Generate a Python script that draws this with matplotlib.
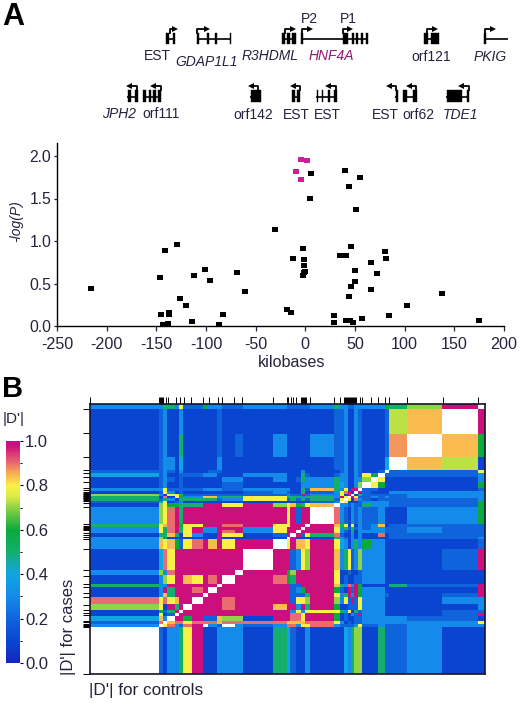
"""
HNF4A region: association scatter (A) and pairwise |D'| map (B).
Layout is worked out in reference pixels, then mapped to figure fractions.
"""

import numpy as np
import matplotlib
matplotlib.use("Agg")
import matplotlib.pyplot as plt
from matplotlib.colors import LinearSegmentedColormap
from matplotlib.path import Path

plt.rcParams["font.family"] = ["Liberation Sans", "DejaVu Sans"]
plt.rcParams["axes.unicode_minus"] = False

W, H = 520, 703
INK = "#23233f"

# ---- Panel A: kilobases vs -log(P) ----
kb_black = [-215.5, -129, -141, -146, -112.5, -100.6, -95.6, -69, -60.5, -126, -120, -145, -137, -137,
            -143, -138, -114, -82.5, -86.5,
            5.4, 39.6, 54.7, 43.6, 5, 50.7, -31, -2, 46, 35, 41, 80, 81, 66, -12, -1.3, -1.3, -0.7, -1.3,
            -2, 50, 72.5, 50, 46, 66, 44.3, 138, 102, -18.5, -14.8, 29, 29, 40.6, 45, 48.3, 56.7, 84.6, 174.5]
logp_black = [0.45, 0.97, 0.89, 0.58, 0.6, 0.67, 0.54, 0.64, 0.41, 0.33, 0.25, 0.14, 0.165, 0.14,
              0.02, 0.04, 0.06, 0.14, 0.02,
              1.795, 1.83, 1.75, 1.646, 1.505, 1.38, 1.14, 0.915, 0.943, 0.83, 0.837, 0.888, 0.805, 0.754,
              0.798, 0.794, 0.723, 0.652, 0.637, 0.605, 0.664, 0.625, 0.527, 0.475, 0.432, 0.354, 0.389,
              0.248, 0.196, 0.169, 0.134, 0.05, 0.067, 0.07, 0.05, 0.094, 0.134, 0.07]
kb_hnf4a = [-4, 1.7, -9.4, -4]
logp_hnf4a = [1.965, 1.95, 1.82, 1.73]

x_ticks = [-250, -200, -150, -100, -50, 0, 50, 100, 150, 200]
y_ticks = [0.0, 0.5, 1.0, 1.5, 2.0]

# gene models: label, label x, label y, italic, colour, exons, line span, arrows (x0, x1, y)
genes_row1 = [
    ("EST", 157, 56, False, INK, [(166, 168.5), (172.5, 175)], (166, 175), [(170, 175)]),
    ("GDAP1L1", 207, 62, True, INK, [(197, 199), (207, 209), (215, 216.5), (230, 231)], (197, 231), [(197, 207)]),
    ("R3HDML", 270, 56, True, INK, [(282, 285), (287, 290), (292, 295.5)], (282, 295), [(285, 293)]),
    ("HNF4A", 331, 56, True, "#8e1a72", [(301, 302.5), (342.5, 348), (352, 353.5), (356, 357.5), (361, 362.5),
                                         (366, 368)], (301, 368), [(301.5, 310), (343, 350)]),
    ("orf121", 431, 57, False, INK, [(424, 428), (431, 439)], (424, 439), [(427, 435)]),
    ("PKIG", 490, 57, True, INK, [(484, 485.5)], (484, 508), [(484.5, 493)]),
]
genes_row2 = [
    ("JPH2", 119, 114, True, INK, [(127.5, 130.5), (135, 137.5)], (127, 137), [(137, 129)]),
    ("orf111", 161, 114, False, INK, [(143, 146), (148.5, 151), (153, 155.5), (157.5, 161)], (143, 161), [(161, 153)]),
    ("orf142", 253, 115, False, INK, [(250.5, 260.5)], (250, 260), [(258, 251)]),
    ("EST", 296, 115, False, INK, [(292, 295), (297, 300)], (292, 300), [(300, 293)]),
    ("EST", 327, 115, False, INK, [(316.5, 318), (321.5, 323), (328, 330), (334, 337)], (316, 337), [(336, 328)]),
    ("EST", 385, 115, False, INK, [(395.5, 397.5)], (395, 397), [(396, 389)]),
    ("orf62", 418, 115, False, INK, [(403, 406.5), (412.5, 416.5)], (403, 416), [(416, 409)]),
    ("TDE1", 461, 115, True, INK, [(446.5, 461.5), (466.5, 469)], (446, 469), [(469, 461)]),
]

# ---- Panel B: |D'| map. Bands are groups of SNPs in map units ----
band_edges = [90, 159, 163, 167, 175, 179, 183, 192, 203, 208, 217, 222, 235, 243, 273, 287, 290, 296, 301, 305,
              310, 334, 340, 344, 348, 351, 354, 358, 362, 371, 378, 385, 389, 407, 442, 478, 485]
snp_pos = [90, 159, 160, 161, 162, 163, 166, 168, 176, 180, 184, 191, 203, 209, 218, 222, 234, 242, 273, 287,
           288, 291, 293, 296, 301, 302, 303, 304, 305, 306, 310, 334, 340, 344, 345, 346, 347, 348, 349, 350,
           351, 352, 353, 354, 355, 356, 360, 362, 371, 378, 385, 389, 407, 443, 478]

# one char per cell, top row first: digit = tenths, l/o/p = light green/peach/salmon,
# X = top of scale, W = white (diagonal)
dprime_rows = [
    "33553 82263 32233 22222 35332 23333 3657X W",
    "12311 31111 21111 11111 12231 13211 12loW X",
    "12311 51111 21213 11111 32231 13211 12pWo 6",
    "12331 41111 31111 11111 12231 13211 14Wol 1",
    "22321 31112 21111 11131 11231 13211 2W222 8",
    "42311 22233 11133 11152 12331 13286 W2222 3",
    "12321 21111 13313 11253 35331 1337W 81111 3",
    "12311 21111 12211 11133 35431 137W8 61111 6",
    "33822 22233 32233 31152 o5381 XXW22 11111 2",
    "12831 21111 11123 21151 2389X 1WX21 11333 3",
    "73188 52222 22222 322X2 3381X W1522 22233 3",
    "51918 633oo 35588 55535 53X8W X8223 23233 3",
    "52531 55555 23388 25252 528W8 19321 22222 3",
    "25812 31111 11111 11111 23W81 11233 33222 6",
    "17866 555XX X88X7 8o658 oW332 32253 33222 6",
    "3789X 5XXXX XXXXX 8X2XX W9321 32322 31133 6",
    "58o9X 688XX X99X8 8XXXW Xo581 81323 o1222 2",
    "3859X 58X33 XXX38 XXXWX X8352 52323 32232 2",
    "3859X 58X33 X9X38 XXWXX X8321 51333 32232 2",
    "155o5 18311 X8812 XWX28 59211 31311 91222 2",
    "37611 11111 X1111 WX111 15321 31311 11222 3",
    "3o8o6 289Xo X8XXW 8Xoo8 X8431 35363 31111 2",
    "1498X XXXXX XXXWX X2387 Xo358 23733 31112 X",
    "3739X XXXXX XXWXX 67XXX X8112 11233 31111 1",
    "1378X Xo8X9 XWXX9 65XXX X8121 12233 31111 1",
    "533XX XXXXX WXXXX X22XX Xo539 3X611 11522 X",
    "13X5X XX9XW XXXXX X236X X621X 2X633 31111 X",
    "13o5X XXXWX XXXXX X2225 X835X 3X633 32112 X",
    "9898o XXWXX X9XXX X2887 X7382 X2833 31113 3",
    "781X5 XWXXX X9XXo XX3X5 X6112 22833 31111 3",
    "1625X WXXXX XXXXX X3838 88538 15233 31112 2",
    "1812W XXXXX XXXXX X998X X6121 32X33 31112 X",
    "4o3WX X6X22 o771X X998X X6121 12233 33322 1",
    "29Wo9 98999 o9999 oooo9 98312 12233 33333 8",
    "3W893 29XW3 2W323 99388 93222 23822 32233 3",
    "W2133 58X11 33315 42113 11143 57711 52231 1",
]
code_values = {"l": 0.73, "o": 0.84, "p": 0.87, "X": 0.98, "W": np.nan}

cbar_ticks = [0.0, 0.2, 0.4, 0.6, 0.8, 1.0]
cmap_stops = [(0.00, "#1428be"), (0.10, "#0a46d2"), (0.20, "#0f64dc"), (0.30, "#148ceb"), (0.40, "#0fa5e1"),
              (0.45, "#14aaaa"), (0.50, "#14af6e"), (0.60, "#0aaa3c"), (0.70, "#8cd246"), (0.75, "#dceb46"),
              (0.80, "#faf046"), (0.85, "#fab450"), (0.90, "#eb6e6e"), (0.98, "#cd0f7d"), (1.00, "#c00f96")]


def px_axes(fig, left, top, right, bottom):
    return fig.add_axes([left / W, 1 - bottom / H, (right - left) / W, (bottom - top) / H])


def band_to_row(x):
    # rows and columns hold the same SNPs, squeezed to the shorter side
    return 409 + (478 - np.asarray(x, dtype=float)) * 0.683


def parse_rows(rows):
    out = []
    for row in rows:
        cells = row.replace(" ", "")
        assert len(cells) == len(band_edges) - 1, row
        out.append([code_values[c] if c in code_values else int(c) / 10 for c in cells])
    return np.array(out)


def draw_gene(ov, gene, line_y, top, bottom, arrow_y):
    label, lx, ly, italic, color, exons, span, arrows = gene
    ov.plot(span, [line_y, line_y], color="black", lw=1.2, solid_capstyle="butt")
    for x0, x1 in exons:
        ov.fill_between([x0, x1], top, bottom, color="black", lw=0.3)
    for x0, x1 in arrows:
        ov.plot([x0, x0, x1], [top, arrow_y, arrow_y], color="black", lw=1.3)
        ov.plot([x1], [arrow_y], marker=">" if x1 > x0 else "<", ms=3.8, color="black", mew=0)
    ov.text(lx, ly, label, ha="center", va="center", fontsize=10, color=color,
            style="italic" if italic else "normal")


def main() -> None:
    fig = plt.figure(figsize=(W / 100, H / 100), dpi=100, facecolor="white")

    # ---- Overlay for gene models and loose labels ----
    ov = fig.add_axes([0, 0, 1, 1])
    ov.set_xlim(0, W)
    ov.set_ylim(H, 0)
    ov.axis("off")
    for gene in genes_row1:
        draw_gene(ov, gene, 39, 33, 44, 28.5)
    for gene in genes_row2:
        draw_gene(ov, gene, 97, 90, 102, 86)
    ov.text(309, 19, "P2", ha="center", va="center", fontsize=10, color=INK)
    ov.text(348, 19, "P1", ha="center", va="center", fontsize=10, color=INK)
    ov.text(2, 17, "A", ha="left", va="center", fontsize=22, fontweight="bold", color="black")
    ov.text(2, 389, "B", ha="left", va="center", fontsize=21, fontweight="bold", color="black")
    ov.text(14, 419, "|D'|", ha="center", va="center", fontsize=11, color=INK)
    ov.text(69, 627, "|D'| for cases", rotation=90, ha="center", va="center", fontsize=12, color=INK)
    ov.text(89, 690, "|D'| for controls", ha="left", va="center", fontsize=12.3, color=INK)
    ov.text(16, 221, "-log(P)", rotation=90, ha="center", va="center", fontsize=10, style="italic", color=INK)

    # ---- Panel A ----
    ax = px_axes(fig, 57, 143, 504, 326)
    ax.patch.set_alpha(0)
    marker = Path([(-1, -0.72), (1, -0.72), (1, 0.72), (-1, 0.72), (-1, -0.72)], closed=True)
    ax.plot(kb_black, logp_black, ls="", marker=marker, ms=5, color="black", mew=0, clip_on=False)
    ax.plot(kb_hnf4a, logp_hnf4a, ls="", marker=marker, ms=5, color="#cc1f94", mew=0, clip_on=False)
    ax.set_xlim(-250, 200)
    ax.set_ylim(0, 183 / 85)
    ax.set_xticks(x_ticks)
    ax.set_yticks(y_ticks)
    ax.set_yticklabels([f"{v:.1f}" for v in y_ticks])
    ax.tick_params(axis="x", length=3.5, width=0.9, labelsize=11.6, colors=INK, pad=4.5)
    ax.tick_params(axis="y", length=2.5, width=0.9, labelsize=11.3, colors=INK, pad=1.5)
    ax.spines[["top", "right"]].set_visible(False)
    ax.spines[["left", "bottom"]].set_linewidth(1.0)
    ax.set_xlabel("kilobases", fontsize=11.6, color=INK, labelpad=0)
    ax.xaxis.set_label_coords((292 - 57) / 447, -(360 - 326 - 5) / 183)

    # ---- Panel B ----
    cmap = LinearSegmentedColormap.from_list("dprime", cmap_stops, N=256)
    cmap.set_bad("white")
    dprime = parse_rows(dprime_rows)
    x_edges = np.array(band_edges, dtype=float)
    y_edges = band_to_row(x_edges[::-1])

    hm = px_axes(fig, 90, 404, 485, 674)
    mesh = hm.pcolormesh(x_edges, y_edges, dprime, cmap=cmap, vmin=0, vmax=1, antialiased=False, linewidth=0)
    hm.set_xlim(90, 485)
    hm.set_ylim(674, 404)
    hm.xaxis.tick_top()
    hm.set_xticks(snp_pos)
    hm.set_yticks(band_to_row(snp_pos))
    hm.set_xticklabels([])
    hm.set_yticklabels([])
    hm.tick_params(length=5, width=0.7, color="black")
    for spine in hm.spines.values():
        spine.set_linewidth(1.2)
        spine.set_color("#15152a")

    cax = px_axes(fig, 6, 441, 19.5, 663)
    cbar = fig.colorbar(mesh, cax=cax)
    cbar.set_ticks(cbar_ticks)
    cbar.set_ticklabels([f"{v:.1f}" for v in cbar_ticks])
    cbar.ax.minorticks_on()
    cbar.ax.set_yticks(np.arange(0.1, 1.0, 0.2), minor=True)
    cbar.ax.tick_params(which="major", length=2.5, width=0.8, labelsize=12, labelcolor=INK, pad=1.5)
    cbar.ax.tick_params(which="minor", length=1.5, width=0.7)
    cbar.outline.set_visible(False)

    fig.savefig("out.png", dpi=100)
    plt.close(fig)


if __name__ == "__main__":
    main()
